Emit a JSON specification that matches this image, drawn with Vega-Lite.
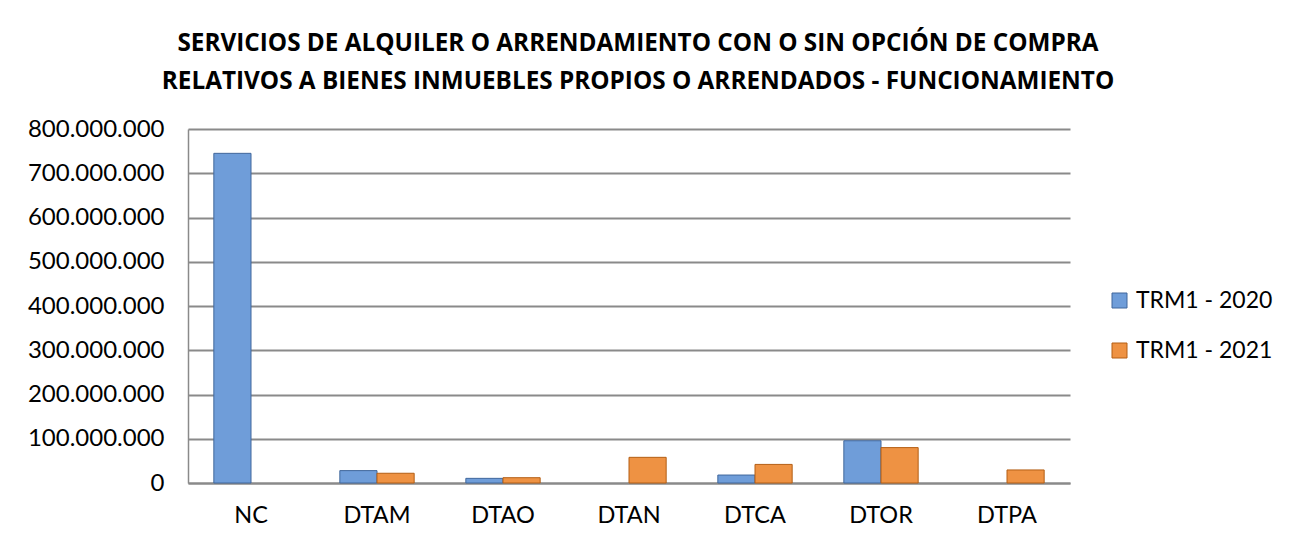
{
  "$schema": "https://vega.github.io/schema/vega-lite/v6.json",
  "width": 882,
  "height": 354,
  "autosize": {"type": "none"},
  "padding": {"left": 188, "top": 129, "right": 224, "bottom": 64},
  "background": "white",
  "title": {
    "text": ["SERVICIOS DE ALQUILER O ARRENDAMIENTO CON O SIN OPCIÓN DE COMPRA", "RELATIVOS A BIENES INMUEBLES PROPIOS O ARRENDADOS - FUNCIONAMIENTO"],
    "font": "Open Sans",
    "fontSize": 24.3,
    "fontWeight": "bold",
    "color": "#000000",
    "lineHeight": 38,
    "anchor": "middle",
    "frame": "group",
    "dx": 9,
    "offset": 23
  },
  "data": {
    "values": [
      {"cat": "NC", "serie": "TRM1 - 2020", "valor": 745000000},
      {"cat": "DTAM", "serie": "TRM1 - 2020", "valor": 28000000},
      {"cat": "DTAM", "serie": "TRM1 - 2021", "valor": 22000000},
      {"cat": "DTAO", "serie": "TRM1 - 2020", "valor": 10500000},
      {"cat": "DTAO", "serie": "TRM1 - 2021", "valor": 12000000},
      {"cat": "DTAN", "serie": "TRM1 - 2021", "valor": 58000000},
      {"cat": "DTCA", "serie": "TRM1 - 2020", "valor": 18000000},
      {"cat": "DTCA", "serie": "TRM1 - 2021", "valor": 42000000},
      {"cat": "DTOR", "serie": "TRM1 - 2020", "valor": 95500000},
      {"cat": "DTOR", "serie": "TRM1 - 2021", "valor": 80000000},
      {"cat": "DTPA", "serie": "TRM1 - 2021", "valor": 29500000}
    ]
  },
  "mark": {"type": "bar", "strokeWidth": 1},
  "encoding": {
    "x": {
      "field": "cat",
      "type": "nominal",
      "sort": ["NC", "DTAM", "DTAO", "DTAN", "DTCA", "DTOR", "DTPA"],
      "scale": {"domain": ["NC", "DTAM", "DTAO", "DTAN", "DTCA", "DTOR", "DTPA"], "paddingInner": 0.41, "paddingOuter": 0.205},
      "axis": {
        "title": null,
        "labelAngle": 0,
        "labelFont": "Lato",
        "labelFontSize": 23.5,
        "labelColor": "#000000",
        "labelPadding": 20,
        "ticks": false,
        "domainColor": "#8a8a8a",
        "domainWidth": 2
      }
    },
    "xOffset": {"field": "serie", "type": "nominal", "scale": {"domain": ["TRM1 - 2020", "TRM1 - 2021"]}},
    "y": {
      "field": "valor",
      "type": "quantitative",
      "scale": {"domain": [0, 800000000], "nice": false},
      "axis": {
        "title": null,
        "values": [0, 100000000, 200000000, 300000000, 400000000, 500000000, 600000000, 700000000, 800000000],
        "format": ",.0f",
        "labelFont": "Lato",
        "labelFontSize": 24,
        "labelColor": "#000000",
        "labelPadding": 24,
        "ticks": false,
        "grid": true,
        "gridColor": "#8a8a8a",
        "gridWidth": 2,
        "domain": true,
        "domainColor": "#8a8a8a",
        "domainWidth": 1.5
      }
    },
    "color": {
      "field": "serie",
      "type": "nominal",
      "scale": {"domain": ["TRM1 - 2020", "TRM1 - 2021"], "range": ["#6f9dd9", "#ee9243"]},
      "legend": {
        "title": null,
        "orient": "none",
        "legendX": 920,
        "legendY": 160,
        "symbolType": "square",
        "symbolSize": 225,
        "symbolStrokeWidth": 1,
        "labelFont": "Lato",
        "labelFontSize": 23,
        "labelColor": "#000000",
        "rowPadding": 26,
        "labelOffset": 5
      }
    },
    "stroke": {
      "field": "serie",
      "type": "nominal",
      "scale": {"domain": ["TRM1 - 2020", "TRM1 - 2021"], "range": ["#41679c", "#b45f15"]},
      "legend": null
    }
  },
  "config": {
    "view": {"stroke": null},
    "locale": {"number": {"decimal": ",", "thousands": ".", "grouping": [3], "currency": ["$", ""]}}
  }
}
